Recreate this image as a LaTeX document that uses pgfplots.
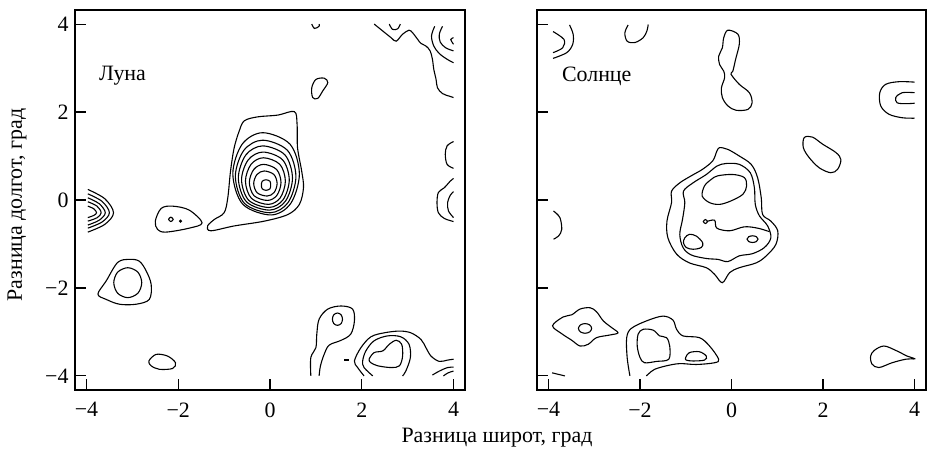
\documentclass[border=0pt]{standalone}
\usepackage{pgfplots}
\pgfplotsset{compat=1.18}
\usepackage{fontspec}
\setmainfont{Liberation Serif}

\pgfplotsset{
  panel/.style={
    scale only axis, width=390bp, height=380bp,
    xmin=-4.25, xmax=4.25, ymin=-4.32, ymax=4.32,
    xtick={-4,-2,0,2,4}, xticklabels={−4,−2,0,2,4},
    ytick={-4,-2,0,2,4}, yticklabels={−4,−2,0,2,4},
    xtick pos=bottom, ytick pos=left, tick align=inside,
    major tick length=11bp,
    axis line style={line width=1.1bp}, tick style={line width=1.1bp, black},
    ticklabel style={font=\fontsize{22}{24}\selectfont},
    xticklabel style={yshift=-9bp},
    yticklabel style={xshift=-3bp},
    anchor=south west, clip=true,
  },
  op/.style={black, line width=1.1bp, smooth, tension=0.55, mark=none},
  cl/.style={black, line width=1.1bp, smooth cycle, tension=0.55, mark=none},
}

\begin{document}
\begin{tikzpicture}
\path[use as bounding box] (0,0) rectangle (927bp,450bp);

% ---- Луна ----
\begin{axis}[panel, at={(75bp,60bp)}]
% main source: outer contour with tail
\addplot[cl] coordinates {(-0.56,1.80) (-0.27,1.89) (0.17,1.93) (0.53,2.01) (0.59,1.72) (0.60,1.19) (0.69,0.66) (0.73,0.28) (0.64,-0.10) (0.39,-0.33) (-0.12,-0.48) (-0.78,-0.59) (-1.29,-0.70) (-1.36,-0.59) (-1.21,-0.44) (-1.0,-0.29) (-0.92,0.05) (-0.86,0.66) (-0.78,1.19) (-0.67,1.57)};
\addplot[cl] coordinates {(-0.158,1.53) (0.437,1.268) (0.64,0.595) (0.452,-0.078) (0.024,-0.34) (-0.593,-0.097) (-0.81,0.595) (-0.607,1.268)};
\addplot[cl] coordinates {(-0.161,1.36) (0.38,1.129) (0.565,0.535) (0.393,-0.059) (0.004,-0.29) (-0.557,-0.076) (-0.755,0.535) (-0.57,1.129)};
\addplot[cl] coordinates {(-0.159,1.23) (0.325,1.026) (0.49,0.50) (0.337,-0.026) (-0.011,-0.23) (-0.513,-0.04) (-0.69,0.50) (-0.525,1.026)};
\addplot[cl] coordinates {(-0.152,1.09) (0.274,0.914) (0.42,0.46) (0.285,0.006) (-0.022,-0.17) (-0.464,-0.006) (-0.62,0.46) (-0.474,0.914)};
\addplot[cl] coordinates {(-0.144,0.96) (0.213,0.812) (0.335,0.43) (0.222,0.048) (-0.035,-0.10) (-0.405,0.038) (-0.535,0.43) (-0.413,0.812)};
\addplot[cl] coordinates {(-0.14,0.81) (0.143,0.695) (0.24,0.40) (0.15,0.105) (-0.053,-0.01) (-0.347,0.097) (-0.45,0.40) (-0.353,0.695)};
\addplot[cl] coordinates {(-0.126,0.66) (0.084,0.58) (0.155,0.375) (0.089,0.17) (-0.062,0.09) (-0.279,0.164) (-0.355,0.375) (-0.284,0.58)};
\addplot[cl] coordinates {(-0.087,0.46) (0.0,0.425) (0.013,0.34) (0.0,0.255) (-0.087,0.22) (-0.17,0.255) (-0.187,0.34) (-0.17,0.425)};
% arcs at the left edge
\addplot[op] coordinates {(-3.97,0.24) (-3.60,0.028) (-3.41,-0.29) (-3.60,-0.554) (-3.97,-0.73)};
\addplot[op] coordinates {(-3.97,0.14) (-3.66,-0.032) (-3.50,-0.29) (-3.66,-0.50) (-3.97,-0.64)};
\addplot[op] coordinates {(-3.97,0.05) (-3.72,-0.086) (-3.59,-0.29) (-3.72,-0.458) (-3.97,-0.57)};
\addplot[op] coordinates {(-3.97,-0.04) (-3.77,-0.14) (-3.68,-0.29) (-3.77,-0.404) (-3.97,-0.48)};
\addplot[op] coordinates {(-3.97,-0.14) (-3.84,-0.20) (-3.78,-0.29) (-3.84,-0.35) (-3.97,-0.40)};
% blob near (-2.2,-0.4)
\addplot[cl] coordinates {(-2.50,-0.48) (-2.37,-0.19) (-2.12,-0.14) (-1.76,-0.23) (-1.48,-0.52) (-1.76,-0.64) (-2.27,-0.73) (-2.45,-0.67)};
\addplot[cl] coordinates {(-2.16,-0.39) (-2.11,-0.44) (-2.16,-0.49) (-2.21,-0.44)};
\addplot[cl, line width=1.5bp] coordinates {(-1.95,-0.465) (-1.935,-0.48) (-1.95,-0.495) (-1.965,-0.48)};
% ring pair near (-3.1,-1.9)
\addplot[cl] coordinates {(-3.75,-2.14) (-3.57,-1.84) (-3.32,-1.42) (-3.07,-1.35) (-2.85,-1.39) (-2.70,-1.61) (-2.59,-1.92) (-2.63,-2.26) (-2.92,-2.37) (-3.28,-2.37) (-3.57,-2.26)};
\addplot[cl] coordinates {(-3.10,-1.54) (-2.88,-1.64) (-2.795,-1.88) (-2.88,-2.12) (-3.10,-2.22) (-3.32,-2.12) (-3.405,-1.88) (-3.32,-1.64)};
% small blob near (-2.4,-3.7)
\addplot[cl] coordinates {(-2.64,-3.66) (-2.48,-3.51) (-2.23,-3.55) (-2.06,-3.70) (-2.12,-3.83) (-2.41,-3.85) (-2.59,-3.77)};
% small blob near (1.1,2.5)
\addplot[cl] coordinates {(0.93,2.33) (0.91,2.55) (1.00,2.74) (1.18,2.77) (1.26,2.67) (1.15,2.48) (1.04,2.31)};
\addplot[op] coordinates {(0.91,4.0) (0.97,3.90) (1.07,3.95) (1.07,4.0)};
% upper right corner
\addplot[op] coordinates {(2.27,4.0) (2.46,3.84) (2.64,3.69) (2.75,3.61) (2.89,3.77) (3.03,3.86) (3.11,3.80) (3.22,3.65) (3.29,3.56) (3.40,3.50) (3.49,3.39) (3.54,3.20) (3.57,2.97) (3.62,2.74) (3.65,2.55) (3.76,2.42) (3.91,2.36) (4.0,2.33)};
\addplot[op] coordinates {(2.60,4.0) (2.67,3.88) (2.78,3.89) (2.84,4.0)};
\addplot[op] coordinates {(3.59,3.95) (3.52,3.73) (3.57,3.50) (3.69,3.33) (3.86,3.20) (4.0,3.12)};
\addplot[op] coordinates {(3.76,3.95) (3.69,3.77) (3.71,3.59) (3.83,3.46) (4.0,3.39)};
\addplot[op] coordinates {(4.0,3.69) (3.94,3.65) (4.0,3.54)};
% right edge
\addplot[op] coordinates {(4.0,1.33) (3.86,1.23) (3.82,1.04) (3.86,0.81) (4.0,0.72)};
\addplot[op] coordinates {(4.0,0.49) (3.93,0.43) (3.80,0.28) (3.67,0.17) (3.64,-0.06) (3.67,-0.29) (3.80,-0.42) (4.0,-0.49)};
\addplot[op] coordinates {(4.0,0.19) (3.93,0.11) (3.87,-0.06) (3.89,-0.25) (4.0,-0.40)};
% lower right
\addplot[op] coordinates {(0.89,-4.0) (0.89,-3.58) (1.0,-3.36) (1.02,-3.05) (1.07,-2.71) (1.26,-2.48) (1.55,-2.41) (1.80,-2.48) (1.84,-2.75) (1.76,-3.05) (1.55,-3.19) (1.29,-3.30) (1.18,-3.51) (1.10,-3.77) (1.07,-4.0)};
\addplot[cl] coordinates {(1.47,-2.57) (1.55,-2.61) (1.58,-2.71) (1.55,-2.81) (1.47,-2.85) (1.39,-2.81) (1.36,-2.71) (1.39,-2.61)};
\addplot[op, line width=1.8bp] coordinates {(1.62,-3.64) (1.71,-3.64)};
\addplot[op] coordinates {(2.05,-4.0) (1.91,-3.81) (1.84,-3.66) (1.98,-3.36) (2.20,-3.11) (2.49,-3.02) (2.82,-2.98) (3.07,-3.02) (3.29,-3.17) (3.40,-3.36) (3.51,-3.55) (3.69,-3.67) (3.87,-3.64) (4.0,-3.62)};
\addplot[op] coordinates {(2.24,-4.0) (2.05,-3.81) (2.02,-3.66) (2.09,-3.43) (2.27,-3.20) (2.56,-3.09) (2.85,-3.11) (3.03,-3.28) (3.06,-3.58) (2.96,-3.89) (2.89,-4.0)};
\addplot[cl] coordinates {(2.16,-3.62) (2.27,-3.47) (2.46,-3.43) (2.60,-3.28) (2.75,-3.19) (2.87,-3.28) (2.89,-3.55) (2.82,-3.77) (2.64,-3.81) (2.35,-3.77) (2.20,-3.70)};
\addplot[op] coordinates {(3.54,-3.98) (3.69,-3.89) (3.87,-3.81) (4.0,-3.80)};
\addplot[op] coordinates {(3.78,-4.0) (3.88,-3.93) (4.0,-3.89)};
\node[anchor=west, font=\fontsize{22}{24}\selectfont] at (axis cs:-3.8,2.82) {Луна};
\end{axis}

% ---- Солнце ----
\begin{axis}[panel, at={(537bp,60bp)}, width=389bp, yticklabels={}]
\addplot[op] coordinates {(-3.90,3.83) (-3.66,3.65) (-3.69,3.46) (-3.90,3.35)};
\addplot[op] coordinates {(-3.54,3.98) (-3.46,3.77) (-3.47,3.54) (-3.60,3.35) (-3.90,3.22)};
\addplot[op] coordinates {(-2.26,3.98) (-2.33,3.80) (-2.28,3.61) (-2.11,3.58) (-1.93,3.69) (-1.85,3.84) (-1.82,3.99)};
\addplot[cl] coordinates {(-0.08,3.86) (0.14,3.77) (0.17,3.54) (0.09,3.20) (0.03,2.93) (-0.01,2.86) (0.17,2.63) (0.39,2.44) (0.45,2.21) (0.36,2.06) (0.10,2.04) (-0.08,2.14) (-0.20,2.33) (-0.22,2.55) (-0.15,2.78) (-0.17,2.93) (-0.26,3.08) (-0.28,3.27) (-0.20,3.46) (-0.17,3.69)};
\addplot[op] coordinates {(4.0,2.68) (3.66,2.69) (3.37,2.63) (3.24,2.44) (3.26,2.14) (3.44,1.95) (3.73,1.87) (4.0,1.86)};
\addplot[op] coordinates {(4.0,2.44) (3.73,2.44) (3.59,2.33) (3.62,2.21) (3.81,2.19) (4.0,2.20)};
\addplot[cl] coordinates {(1.59,1.42) (1.77,1.43) (1.99,1.27) (2.28,1.08) (2.39,0.92) (2.32,0.70) (2.17,0.62) (1.92,0.73) (1.70,0.96) (1.57,1.19)};
% central complex
\addplot[cl] coordinates {(-0.26,1.19) (-0.08,1.15) (0.17,1.0) (0.43,0.81) (0.57,0.51) (0.65,0.05) (0.68,-0.33) (0.86,-0.48) (1.01,-0.70) (0.97,-1.01) (0.76,-1.27) (0.54,-1.43) (0.17,-1.54) (-0.04,-1.65) (-0.20,-1.88) (-0.37,-1.69) (-0.55,-1.54) (-0.92,-1.43) (-1.20,-1.23) (-1.39,-0.86) (-1.41,-0.48) (-1.31,-0.06) (-1.31,0.20) (-1.13,0.39) (-0.88,0.55) (-0.63,0.70) (-0.41,0.89) (-0.32,1.11)};
\addplot[cl] coordinates {(-0.12,0.83) (0.17,0.81) (0.41,0.62) (0.50,0.28) (0.52,-0.10) (0.61,-0.36) (0.79,-0.59) (0.86,-0.86) (0.72,-1.08) (0.46,-1.22) (0.17,-1.27) (-0.08,-1.40) (-0.30,-1.35) (-0.55,-1.33) (-0.88,-1.25) (-1.06,-1.08) (-1.13,-0.78) (-1.07,-0.44) (-1.02,-0.06) (-1.05,0.20) (-0.84,0.39) (-0.55,0.58) (-0.32,0.77)};
\addplot[op] coordinates {(-0.54,-0.49) (-0.37,-0.46) (-0.32,-0.64) (-0.04,-0.70) (0.28,-0.61) (0.57,-0.64) (0.83,-0.72)};
\addplot[cl] coordinates {(-0.57,-0.445) (-0.525,-0.49) (-0.57,-0.535) (-0.615,-0.49)};
\addplot[cl] coordinates {(-0.30,0.55) (0.03,0.58) (0.28,0.51) (0.33,0.32) (0.25,0.13) (-0.01,-0.02) (-0.26,-0.10) (-0.48,-0.06) (-0.64,0.09) (-0.59,0.32) (-0.44,0.47)};
\addplot[cl] coordinates {(-1.02,-0.86) (-0.92,-0.78) (-0.77,-0.82) (-0.63,-0.97) (-0.66,-1.08) (-0.84,-1.12) (-0.99,-1.08) (-1.05,-0.97)};
\addplot[cl] coordinates {(0.46,-0.814) (0.545,-0.836) (0.58,-0.89) (0.545,-0.944) (0.46,-0.966) (0.375,-0.944) (0.34,-0.89) (0.375,-0.836)};
% left edge
\addplot[op] coordinates {(-3.89,-0.25) (-3.75,-0.40) (-3.71,-0.67) (-3.78,-0.82) (-3.89,-0.89)};
% lower left
\addplot[cl] coordinates {(-3.91,-2.86) (-3.68,-2.66) (-3.49,-2.61) (-3.31,-2.48) (-3.09,-2.45) (-2.95,-2.54) (-2.80,-2.75) (-2.62,-2.90) (-2.48,-3.02) (-2.66,-3.07) (-2.95,-3.13) (-3.13,-3.28) (-3.31,-3.32) (-3.49,-3.19) (-3.71,-3.04)};
\addplot[cl] coordinates {(-3.20,-2.81) (-3.10,-2.84) (-3.055,-2.92) (-3.10,-3.0) (-3.20,-3.03) (-3.30,-3.0) (-3.345,-2.92) (-3.30,-2.84)};
\addplot[op] coordinates {(-2.22,-4.0) (-2.28,-3.58) (-2.29,-3.13) (-2.19,-2.92) (-1.86,-2.75) (-1.50,-2.64) (-1.28,-2.73) (-1.20,-2.94) (-1.06,-3.09) (-0.70,-3.13) (-0.48,-3.32) (-0.28,-3.62) (-0.37,-3.70) (-0.77,-3.74) (-1.13,-3.72) (-1.42,-3.77) (-1.68,-3.85) (-1.82,-3.96) (-1.86,-4.0)};
\addplot[cl] coordinates {(-2.04,-3.05) (-1.93,-2.94) (-1.71,-2.96) (-1.57,-3.09) (-1.42,-3.13) (-1.35,-3.32) (-1.37,-3.62) (-1.64,-3.67) (-1.90,-3.70) (-2.00,-3.58) (-2.06,-3.32)};
\addplot[cl] coordinates {(-1.0,-3.58) (-0.92,-3.47) (-0.70,-3.45) (-0.55,-3.55) (-0.59,-3.64) (-0.84,-3.66) (-0.99,-3.64)};
\addplot[op] coordinates {(-3.92,-3.93) (-3.64,-4.0)};
% lower right
\addplot[cl] coordinates {(3.04,-3.55) (3.12,-3.42) (3.33,-3.32) (3.59,-3.42) (3.84,-3.55) (4.0,-3.61) (3.81,-3.62) (3.51,-3.70) (3.22,-3.81) (3.07,-3.73)};
\node[anchor=west, font=\fontsize{22}{24}\selectfont] at (axis cs:-3.78,2.82) {Солнце};
\end{axis}

\node[font=\fontsize{22}{24}\selectfont] at (497bp,12bp) {Разница широт, град};
\node[font=\fontsize{22}{24}\selectfont, rotate=90] at (17bp,245bp) {Разница долгот, град};
\end{tikzpicture}
\end{document}
